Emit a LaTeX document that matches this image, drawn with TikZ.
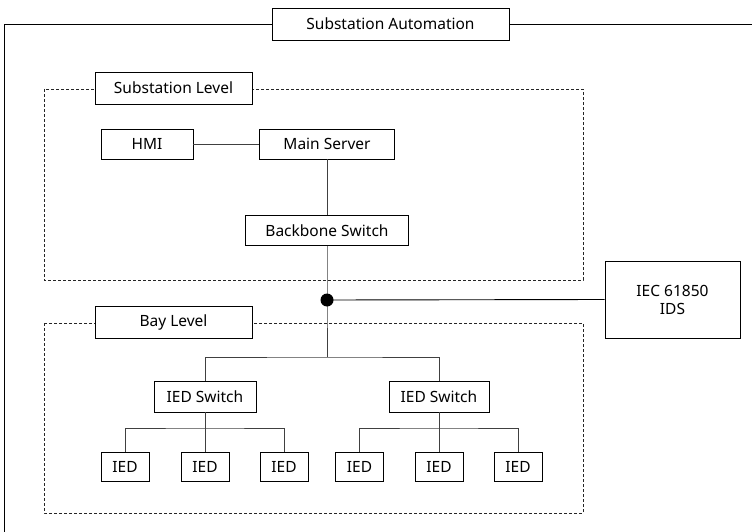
\documentclass[tikz,border=0pt]{standalone}
\usepackage{fontspec}
\setmainfont{Noto Sans}
\begin{document}
\begin{tikzpicture}[x=1pt,y=-1pt,
  box/.style={draw=black,line width=0.8pt,fill=white,inner sep=0pt,font=\fontsize{15.5}{18}\selectfont},
  conn/.style={draw=black!75,line width=0.9pt},
  level/.style={draw=black!85,line width=0.8pt,dash pattern=on 3pt off 2pt}]
\useasboundingbox (0,0) rectangle (752,532);
% dashed level areas
\draw[level] (44,89) rectangle (583,280);
\draw[level] (44,323) rectangle (583,513);
% labels
\node[box,minimum width=237pt,minimum height=32pt] (title) at (390.5,24) {Substation Automation};
\node[box,minimum width=157pt,minimum height=32pt] (sublvl) at (173.5,88) {Substation Level};
\node[box,minimum width=157pt,minimum height=32pt] (baylvl) at (173.5,322) {Bay Level};
% outer frame
\coordinate (tl) at (4,24);
\coordinate (bl) at (4,532);
\coordinate (tr) at (752,24);
\draw[conn,draw=black] (title.west) -- (tl) -- (bl);
\draw[conn,draw=black] (title.east) -- (tr);
% substation level
\node[box,minimum width=92pt,minimum height=30pt] (hmi) at (147,144) {HMI};
\node[box,minimum width=135pt,minimum height=30pt] (srv) at (327,144) {Main Server};
\node[box,minimum width=163pt,minimum height=30pt] (bb) at (327,230.5) {Backbone Switch};
% IDS
\node[box,minimum width=135pt,minimum height=77pt,align=center] (ids) at (672.5,299.5) {IEC 61850\\IDS};
% bay level
\node[box,minimum width=102pt,minimum height=31pt] (sw1) at (205,396.5) {IED Switch};
\node[box,minimum width=100pt,minimum height=31pt] (sw2) at (439,396.5) {IED Switch};
\foreach \n/\x in {i1/125,i2/205,i3/284,i4/359.5,i5/439,i6/518}
  \node[box,minimum width=48pt,minimum height=29pt] (\n) at (\x,466.5) {IED};
% connectors
\coordinate (dot) at (327,300);
\coordinate (bar) at (327,357);
\draw[conn] (hmi) -- (srv);
\draw[conn] (srv) -- (bb);
\draw[conn] (bb) -- (dot) -- (bar);
\draw[conn,draw=black] (dot) -- (ids.west);
\draw[conn] (sw1.north) |- (bar) -| (sw2.north);
\coordinate (b1) at (205,428);
\coordinate (b2) at (439,428);
\draw[conn] (sw1.south) -- (i2.north);
\draw[conn] (i1.north) |- (b1) -| (i3.north);
\draw[conn] (sw2.south) -- (i5.north);
\draw[conn] (i4.north) |- (b2) -| (i6.north);
\fill[black] (dot) circle (6.5pt);
\end{tikzpicture}
\end{document}
